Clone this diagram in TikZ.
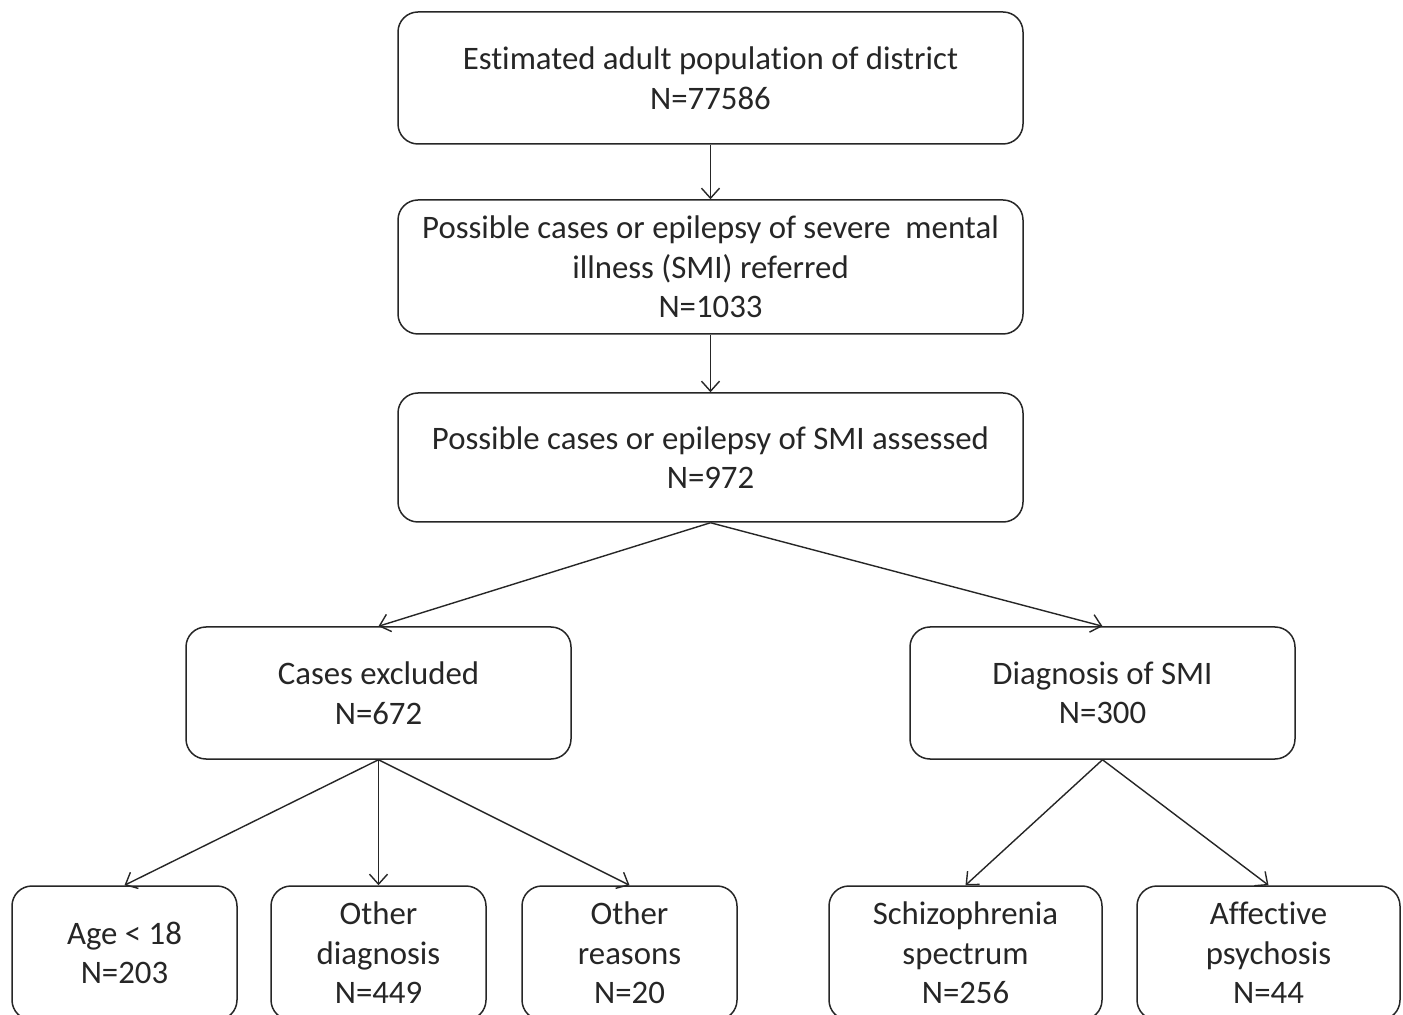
\documentclass[tikz,border=0pt]{standalone}
\usepackage{fontspec}
\setmainfont{Carlito}[Ligatures=NoCommon]
\usetikzlibrary{arrows.meta}
\tikzset{
  box/.style={draw=black!85, line width=0.75pt, rounded corners=10pt, align=center, inner sep=0pt,
    font=\fontsize{16.4}{19.8}\selectfont, text=black!85},
  conn/.style={draw=black!85, line width=0.7pt, -{Straight Barb[length=5pt,width=9pt]}}
}
\begin{document}
\begin{tikzpicture}[x=0.5pt,y=-0.5pt]
\clip (0,0) rectangle (1403,1015);
\fill[white] (0,0) rectangle (1403,1015);
\node[box, minimum width=312.5pt, minimum height=66pt] (pop) at (710.5,78) {Estimated adult population of district\\N=77586};
\node[box, minimum width=312.5pt, minimum height=67pt] (ref) at (710.5,267) {Possible cases or epilepsy of severe~ mental\\illness (SMI) referred\\N=1033};
\node[box, minimum width=312.5pt, minimum height=64.5pt] (ass) at (710.5,457.5) {Possible cases or epilepsy of SMI assessed\\N=972};
\node[box, minimum width=192.5pt, minimum height=66pt] (exc) at (378.5,693) {Cases excluded\\N=672};
\node[box, minimum width=192.5pt, minimum height=66pt] (dia) at (1102.5,693) {Diagnosis of SMI\\N=300};
\node[box, minimum width=112.5pt, minimum height=67pt] (age) at (124.5,953) {Age < 18\\N=203};
\node[box, minimum width=107.5pt, minimum height=67pt] (oth) at (378.5,953) {Other\\diagnosis\\N=449};
\node[box, minimum width=107.5pt, minimum height=67pt] (rea) at (629.5,953) {Other\\reasons\\N=20};
\node[box, minimum width=136.5pt, minimum height=67pt] (sch) at (965.5,953) {Schizophrenia\\spectrum\\N=256};
\node[box, minimum width=131.5pt, minimum height=67pt] (aff) at (1268.5,953) {Affective\\psychosis\\N=44};
\draw[conn] (pop.south) -- (ref.north);
\draw[conn] (ref.south) -- (ass.north);
\draw[conn] (ass.south) -- (exc.north);
\draw[conn] (ass.south) -- (dia.north);
\draw[conn] (exc.south) -- (age.north);
\draw[conn] (exc.south) -- (oth.north);
\draw[conn] (exc.south) -- (rea.north);
\draw[conn] (dia.south) -- (sch.north);
\draw[conn] (dia.south) -- (aff.north);
\end{tikzpicture}
\end{document}
